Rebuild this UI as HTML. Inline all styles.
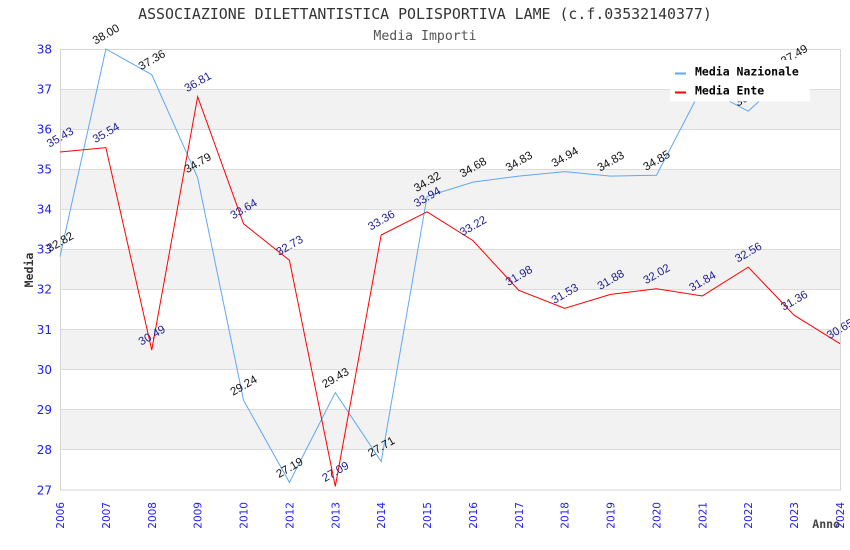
<!DOCTYPE html>
<html>
<head>
<meta charset="utf-8">
<style>
  html,body{margin:0;padding:0;background:#fff;}
  svg{display:block;}
  .yl{font-family:"DejaVu Sans","Liberation Sans",sans-serif;font-size:12px;fill:#2020f0;}
  .xl{font-family:"DejaVu Sans","Liberation Sans",sans-serif;font-size:10.5px;fill:#2020f0;}
  .dl{font-family:"Liberation Sans","DejaVu Sans",sans-serif;font-size:11.5px;}
  .mono{font-family:"DejaVu Sans Mono","Liberation Mono",monospace;}
</style>
</head>
<body>
<svg width="850" height="550" viewBox="0 0 850 550" xmlns="http://www.w3.org/2000/svg">
  <rect x="0" y="0" width="850" height="550" fill="#fff"/>
  <!-- bands -->
  <g fill="#f2f2f2">
    <rect x="60" y="89.09" width="780" height="40.09"/>
    <rect x="60" y="169.27" width="780" height="40.09"/>
    <rect x="60" y="249.45" width="780" height="40.09"/>
    <rect x="60" y="329.64" width="780" height="40.09"/>
    <rect x="60" y="409.82" width="780" height="40.09"/>
  </g>
  <!-- grid -->
  <g stroke="#dcdcdc" stroke-width="1">
    <line x1="60" y1="89.5" x2="840" y2="89.5"/>
    <line x1="60" y1="129.5" x2="840" y2="129.5"/>
    <line x1="60" y1="169.5" x2="840" y2="169.5"/>
    <line x1="60" y1="209.5" x2="840" y2="209.5"/>
    <line x1="60" y1="249.5" x2="840" y2="249.5"/>
    <line x1="60" y1="289.5" x2="840" y2="289.5"/>
    <line x1="60" y1="329.5" x2="840" y2="329.5"/>
    <line x1="60" y1="369.5" x2="840" y2="369.5"/>
    <line x1="60" y1="409.5" x2="840" y2="409.5"/>
    <line x1="60" y1="449.5" x2="840" y2="449.5"/>
  </g>
  <!-- border -->
  <rect x="60.5" y="49.5" width="780" height="440.5" fill="none" stroke="#d6d6d6" stroke-width="1"/>

  <!-- Y labels -->
  <g class="yl" text-anchor="end">
    <text x="52" y="53.5">38</text>
    <text x="52" y="93.5">37</text>
    <text x="52" y="133.5">36</text>
    <text x="52" y="173.5">35</text>
    <text x="52" y="213.5">34</text>
    <text x="52" y="253.5">33</text>
    <text x="52" y="293.5">32</text>
    <text x="52" y="334">31</text>
    <text x="52" y="374">30</text>
    <text x="52" y="414">29</text>
    <text x="52" y="454">28</text>
    <text x="52" y="494.5">27</text>
  </g>

  <!-- X labels -->
  <g class="xl" text-anchor="end">
    <text transform="translate(64,502) rotate(-90)">2006</text>
    <text transform="translate(109.9,502) rotate(-90)">2007</text>
    <text transform="translate(155.8,502) rotate(-90)">2008</text>
    <text transform="translate(201.6,502) rotate(-90)">2009</text>
    <text transform="translate(247.5,502) rotate(-90)">2010</text>
    <text transform="translate(293.4,502) rotate(-90)">2012</text>
    <text transform="translate(339.3,502) rotate(-90)">2013</text>
    <text transform="translate(385.2,502) rotate(-90)">2014</text>
    <text transform="translate(431.1,502) rotate(-90)">2015</text>
    <text transform="translate(476.9,502) rotate(-90)">2016</text>
    <text transform="translate(522.8,502) rotate(-90)">2017</text>
    <text transform="translate(568.7,502) rotate(-90)">2018</text>
    <text transform="translate(614.6,502) rotate(-90)">2019</text>
    <text transform="translate(660.5,502) rotate(-90)">2020</text>
    <text transform="translate(706.4,502) rotate(-90)">2021</text>
    <text transform="translate(752.2,502) rotate(-90)">2022</text>
    <text transform="translate(798.1,502) rotate(-90)">2023</text>
    <text transform="translate(844,502) rotate(-90)">2024</text>
  </g>

  <!-- Series lines -->
  <polyline fill="none" stroke="#5fa8f5" stroke-width="1"
    points="60,256.67 105.88,49 151.76,74.66 197.65,177.69 243.53,400.2 289.41,482.38 335.29,392.58 381.18,461.54 427.06,196.53 472.94,182.1 518.82,176.09 564.71,171.68 610.59,176.09 656.47,175.29 702.35,87.09 748.24,111.14 794.12,69.45"/>
  <polyline fill="none" stroke="#ff0000" stroke-width="1"
    points="60,152.03 105.88,147.62 151.76,350.08 197.65,96.71 243.53,223.8 289.41,260.28 335.29,486.39 381.18,235.02 427.06,211.77 472.94,240.63 518.82,290.35 564.71,308.39 610.59,294.36 656.47,288.74 702.35,295.96 748.24,267.1 794.12,315.2 840,343.67"/>

  <!-- Nazionale labels -->
  <g class="dl" fill="#111" text-anchor="middle">
    <text transform="translate(62,245.2) rotate(-30)">32.82</text>
    <text transform="translate(107.88,37.5) rotate(-30)">38.00</text>
    <text transform="translate(153.76,63.2) rotate(-30)">37.36</text>
    <text transform="translate(199.65,166.2) rotate(-30)">34.79</text>
    <text transform="translate(245.53,388.7) rotate(-30)">29.24</text>
    <text transform="translate(291.41,470.9) rotate(-30)">27.19</text>
    <text transform="translate(337.29,381.1) rotate(-30)">29.43</text>
    <text transform="translate(383.18,450) rotate(-30)">27.71</text>
    <text transform="translate(429.06,185) rotate(-30)">34.32</text>
    <text transform="translate(474.94,170.6) rotate(-30)">34.68</text>
    <text transform="translate(520.82,164.6) rotate(-30)">34.83</text>
    <text transform="translate(566.71,160.2) rotate(-30)">34.94</text>
    <text transform="translate(612.59,164.6) rotate(-30)">34.83</text>
    <text transform="translate(658.47,163.8) rotate(-30)">34.85</text>
    <text transform="translate(704.35,75.6) rotate(-30)">37.05</text>
    <text transform="translate(750.24,99.6) rotate(-30)">36.45</text>
    <text transform="translate(796.12,58) rotate(-30)">37.49</text>
  </g>

  <!-- Ente labels -->
  <g class="dl" fill="#1e1e90" text-anchor="middle">
    <text transform="translate(62,140.5) rotate(-30)">35.43</text>
    <text transform="translate(107.88,136.1) rotate(-30)">35.54</text>
    <text transform="translate(153.76,338.6) rotate(-30)">30.49</text>
    <text transform="translate(199.65,85.2) rotate(-30)">36.81</text>
    <text transform="translate(245.53,212.3) rotate(-30)">33.64</text>
    <text transform="translate(291.41,248.8) rotate(-30)">32.73</text>
    <text transform="translate(337.29,474.9) rotate(-30)">27.09</text>
    <text transform="translate(383.18,223.5) rotate(-30)">33.36</text>
    <text transform="translate(429.06,200.3) rotate(-30)">33.94</text>
    <text transform="translate(474.94,229.1) rotate(-30)">33.22</text>
    <text transform="translate(520.82,278.9) rotate(-30)">31.98</text>
    <text transform="translate(566.71,296.9) rotate(-30)">31.53</text>
    <text transform="translate(612.59,282.9) rotate(-30)">31.88</text>
    <text transform="translate(658.47,277.2) rotate(-30)">32.02</text>
    <text transform="translate(704.35,284.5) rotate(-30)">31.84</text>
    <text transform="translate(750.24,255.6) rotate(-30)">32.56</text>
    <text transform="translate(796.12,303.7) rotate(-30)">31.36</text>
    <text transform="translate(842,332.2) rotate(-30)">30.65</text>
  </g>

  <!-- Legend -->
  <rect x="670" y="60" width="140" height="41.5" fill="#fff"/>
  <line x1="675" y1="73.5" x2="686" y2="73.5" stroke="#5fa8f5" stroke-width="2"/>
  <line x1="675" y1="92.5" x2="686" y2="92.5" stroke="#ff0000" stroke-width="2"/>
  <text class="mono" x="695" y="75.5" font-size="11.5" font-weight="bold" fill="#000">Media Nazionale</text>
  <text class="mono" x="695" y="94.5" font-size="11.5" font-weight="bold" fill="#000">Media Ente</text>

  <!-- Titles -->
  <text class="mono" x="425" y="19" font-size="14.9" fill="#333" text-anchor="middle">ASSOCIAZIONE DILETTANTISTICA POLISPORTIVA LAME (c.f.03532140377)</text>
  <text class="mono" x="425" y="40" font-size="13.2" fill="#555" text-anchor="middle">Media Importi</text>

  <!-- Axis titles -->
  <text class="mono" transform="translate(33,270) rotate(-90)" font-size="11.5" font-weight="bold" fill="#333" text-anchor="middle">Media</text>
  <text class="mono" x="840" y="528" font-size="11.5" font-weight="bold" fill="#444" text-anchor="end">Anno</text>
</svg>
</body>
</html>
